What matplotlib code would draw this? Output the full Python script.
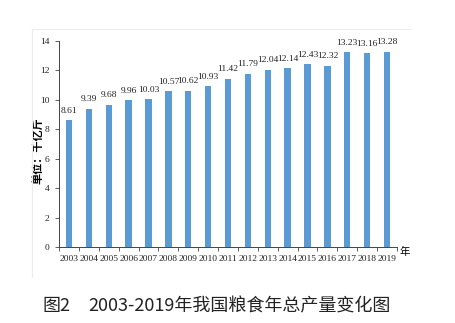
import matplotlib
matplotlib.use('Agg')
import matplotlib.pyplot as plt
from matplotlib.lines import Line2D

years = ['2003', '2004', '2005', '2006', '2007', '2008', '2009', '2010', '2011',
         '2012', '2013', '2014', '2015', '2016', '2017', '2018', '2019']
output = [8.61, 9.39, 9.68, 9.96, 10.03, 10.57, 10.62, 10.93, 11.42,
          11.79, 12.04, 12.14, 12.43, 12.32, 13.23, 13.16, 13.28]
yticks = [0, 2, 4, 6, 8, 10, 12, 14]

cjk = ['Noto Sans CJK SC', 'DejaVu Sans']
serif = 'Liberation Serif'

fig = plt.figure(figsize=(4.55, 3.23), dpi=100)
fig.patch.set_facecolor('white')

# light frame around chart area (left and top edges only visible)
fig.add_artist(Line2D([32/455, 32/455], [1-277/323, 1-29/323], color='#ececec', lw=0.8))
fig.add_artist(Line2D([32/455, 411/455], [1-29/323, 1-29/323], color='#ececec', lw=0.8))

ax = fig.add_axes([59/455, 1-247/323, 338/455, 206/323])
x = list(range(len(years)))
ax.bar(x, output, width=0.32, color='#5b9bd5')
ax.set_xlim(-0.5, len(years) - 0.5)
ax.set_ylim(0, 14)

for xi, v in zip(x, output):
    ax.text(xi, v + 0.38, f'{v:.2f}', ha='center', va='bottom',
            fontsize=6.8, family=serif, color='#222222')

ax.set_yticks(yticks)
ax.set_yticklabels([str(t) for t in yticks], family=serif, fontsize=6.8, color='#222222')
ax.set_xticks(x)
ax.set_xticklabels(years, family=serif, fontsize=6.8, color='#222222')
ax.set_xticks([i + 0.5 for i in range(-1, len(years))], minor=True)
ax.tick_params(axis='x', which='major', length=0, pad=6)
ax.tick_params(axis='x', which='minor', length=3, width=0.6, direction='out', color='#444444')
ax.tick_params(axis='y', length=3, width=0.6, direction='out', color='#444444', pad=4)

for s in ['top', 'right']:
    ax.spines[s].set_visible(False)
for s in ['left', 'bottom']:
    ax.spines[s].set_linewidth(0.7)
    ax.spines[s].set_color('#444444')

ax.set_ylabel('单位：千亿斤', family=cjk, fontsize=8, fontweight='bold')
ax.yaxis.set_label_coords(-0.043, 0.466)
fig.text(399/455, 1-252/323, '年', family=cjk, fontsize=7.5, ha='left', va='center')

fig.text(42/455, 1-306/323, '图2', family=cjk, fontsize=13, ha='left', va='center', color='#222222')
fig.text(88/455, 1-306/323, '2003-2019年我国粮食年总产量变化图', family=cjk,
         fontsize=13, ha='left', va='center', color='#222222')

fig.savefig('out.png', dpi=100)
